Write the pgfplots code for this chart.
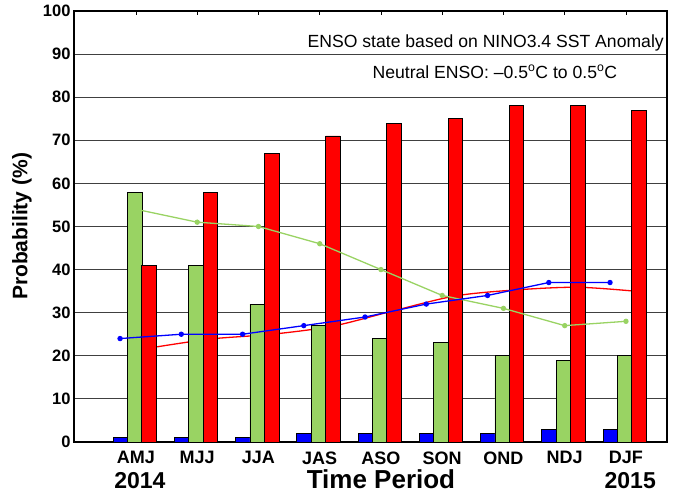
\documentclass[border=0pt]{standalone}
\usepackage{fontspec}
\setmainfont{Liberation Sans}
\usepackage{pgfplots}
\pgfplotsset{compat=1.18}
\definecolor{bblue}{RGB}{0,0,255}
\definecolor{bgreen}{RGB}{153,211,99}
\definecolor{bred}{RGB}{255,0,0}
\begin{document}
\begin{tikzpicture}
\begin{axis}[
 scale only axis, width=593pt, height=431pt,
 xmin=-0.012, xmax=9.67, ymin=0, ymax=100,
 ytick={0,10,...,100},
 xtick={1,...,9},
 xticklabels={AMJ,MJJ,JJA,JAS,ASO,SON,OND,NDJ,DJF},
 ymajorgrids, major grid style={black!75, line width=0.8pt},
 axis line style={line width=1.2pt},
 tick align=inside, major tick length=4pt,
 xtick style={black, line width=0.8pt},
 ytick style={draw=none},
 /pgf/number format/assume math mode=true,
 yticklabel style={font=\fontsize{16.5}{18}\selectfont\bfseries},
 xticklabel style={font=\fontsize{18}{20}\selectfont\bfseries, yshift=-6pt},
 clip=false,
]
\coordinate (sw) at (rel axis cs:0,0);
% red climatology line (behind bars)
\addplot[bred, line width=1.3pt, smooth, mark=none] coordinates {
(1.22,21.8)(2.22,23.9)(3.22,25.0)(4.22,26.9)(5.22,30.5)(6.22,33.9)(7.22,35.3)(8.22,35.9)(9.22,34.9)};
% bars
\addplot[ybar, bar width=0.237, bar shift=-0.255, fill=bblue, draw=black, line width=0.8pt] coordinates {
(1,1)(2,1)(3,1)(4,2)(5,2)(6,2)(7,2)(8,3)(9,3)};
\addplot[ybar, bar width=0.237, bar shift=-0.02, fill=bgreen, draw=black, line width=0.8pt] coordinates {
(1,58)(2,41)(3,32)(4,27)(5,24)(6,23)(7,20)(8,19)(9,20)};
\addplot[ybar, bar width=0.237, bar shift=0.215, fill=bred, draw=black, line width=0.8pt] coordinates {
(1,41)(2,58)(3,67)(4,71)(5,74)(6,75)(7,78)(8,78)(9,77)};
% lines over bars
\addplot[bgreen, line width=1.3pt, mark=*, mark size=2pt] coordinates {
(1,54)(2,51)(3,50)(4,46)(5,40)(6,34)(7,31)(8,27)(9,28)};
\addplot[bblue, line width=1.3pt, mark=*, mark size=2pt] coordinates {
(0.74,24)(1.74,25)(2.74,25)(3.74,27)(4.74,29)(5.74,32)(6.74,34)(7.74,37)(8.74,37)};
% annotations
\node[anchor=base east, inner sep=0, font=\fontsize{17.6}{20}\selectfont] at (axis cs:9.62,91.6) {ENSO state based on NINO3.4 SST Anomaly};
\node[anchor=base, inner sep=0, font=\fontsize{17.6}{20}\selectfont] at (axis cs:6.86,84.4) {Neutral ENSO: \textendash0.5\textsuperscript{o}C to 0.5\textsuperscript{o}C};
\node[anchor=base, inner sep=0, font=\fontsize{26}{30}\selectfont\bfseries] at ([yshift=-46.5pt]axis cs:5,0) {Time Period};
\node[anchor=base, inner sep=0, font=\fontsize{23}{26}\selectfont\bfseries] at ([yshift=-46.5pt]axis cs:1.065,0) {2014};
\node[anchor=base, inner sep=0, font=\fontsize{23}{26}\selectfont\bfseries] at ([yshift=-46.5pt]axis cs:9.07,0) {2015};
\node[rotate=90, anchor=center, inner sep=0, font=\fontsize{21}{24}\selectfont\bfseries] at ([xshift=-52pt]rel axis cs:0,0.5) {Probability (\%)};
\end{axis}
\pgfresetboundingbox
\path (sw) ++(-74pt,-52pt) rectangle ++(681pt,494pt);
\end{tikzpicture}
\end{document}
